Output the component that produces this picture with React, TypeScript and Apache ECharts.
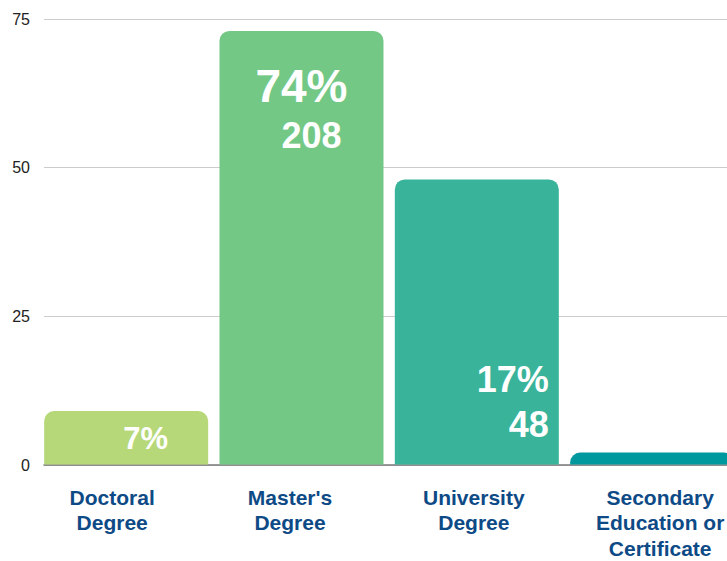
import React, { useEffect, useRef } from "react";
import * as echarts from "echarts";

const categories = ["Doctoral\nDegree", "Master's\nDegree", "University\nDegree", "Secondary\nEducation or\nCertificate"];
const barValues = [9, 73, 48, 2];
const percentLabels = ["7%", "74%", "17%", ""];
const countLabels = ["", "208", "48", ""];
const barColors = ["#b6d879", "#74c886", "#39b49a", "#00989f"];

const labelShift = [-14, -11.5, -3, 8];

const CHART_W = 760;

export default function App() {
  const ref = useRef<HTMLDivElement>(null);
  useEffect(() => {
    if (!ref.current) return;
    const chart = echarts.init(ref.current, null, { renderer: "svg" });
    const font = "'Liberation Sans', Arial, sans-serif";
    const labelCfg = [
      {
        show: true,
        position: "insideTopRight",
        distance: 8,
        offset: [-32, 0],
        formatter: percentLabels[0],
        color: "#ffffff",
        fontWeight: "bold",
        fontSize: 31,
        lineHeight: 38,
        fontFamily: font,
      },
      {
        show: true,
        position: "insideTop",
        distance: 28,
        formatter: `{a|${percentLabels[1]}}\n{b|${countLabels[1]}}`,
        rich: {
          a: { color: "#fff", fontWeight: "bold", fontSize: 46, lineHeight: 54, fontFamily: font, align: "center" },
          b: { color: "#fff", fontWeight: "bold", fontSize: 36, lineHeight: 45, fontFamily: font, align: "right", padding: [0, 6, 0, 0] },
        },
      },
      {
        show: true,
        position: "insideBottomRight",
        distance: 10,
        offset: [0, -8],
        formatter: `${percentLabels[2]}\n${countLabels[2]}`,
        color: "#ffffff",
        fontWeight: "bold",
        fontSize: 36,
        lineHeight: 44.5,
        fontFamily: font,
        align: "right",
      },
      { show: false },
    ];
    chart.setOption({
      animation: false,
      backgroundColor: "#ffffff",
      grid: [
        { left: 44, right: CHART_W - 727, top: 19, height: 446 },
        { left: 38.5, top: 19, width: 701.3, height: 446 },
      ],
      xAxis: [
        {
          gridIndex: 0,
          type: "category",
          data: categories,
          axisLine: { show: true, lineStyle: { color: "#7a7a7a", width: 1.5 } },
          axisTick: { show: false },
          axisLabel: { show: false },
          splitLine: { show: false },
        },
        {
          gridIndex: 1,
          type: "category",
          data: categories.map((c, i) => ({
            value: c,
            textStyle: {
              padding: labelShift[i] < 0 ? [0, -2 * labelShift[i], 0, 0] : [0, 0, 0, 2 * labelShift[i]],
            },
          })),
          axisLine: { show: false },
          axisTick: { show: false },
          axisLabel: {
            interval: 0,
            margin: 20,
            color: "#0d4a86",
            fontWeight: "bold",
            fontSize: 21,
            lineHeight: 25.5,
            fontFamily: font,
            verticalAlign: "top",
          },
        },
      ],
      yAxis: [
        {
          gridIndex: 0,
          type: "value",
          min: 0,
          max: 75,
          interval: 25,
          axisLine: { show: false },
          axisTick: { show: false },
          axisLabel: { margin: 14, color: "#222222", fontSize: 16, fontFamily: font },
          splitLine: { show: true, lineStyle: { color: "#cccccc", width: 1 } },
        },
        {
          gridIndex: 1,
          type: "value",
          min: 0,
          max: 75,
          interval: 25,
          show: false,
          splitLine: { show: false },
        },
      ],
      series: [
        {
          type: "bar",
          xAxisIndex: 1,
          yAxisIndex: 1,
          barWidth: 164,
          data: barValues.map((v, i) => ({
            value: v,
            itemStyle: { color: barColors[i], borderRadius: [10, 10, 0, 0] },
            label: labelCfg[i],
          })),
        },
      ],
    });
    return () => chart.dispose();
  }, []);
  return <div ref={ref} style={{ position: "fixed", left: 0, top: 0, width: CHART_W, height: 561 }} />;
}
